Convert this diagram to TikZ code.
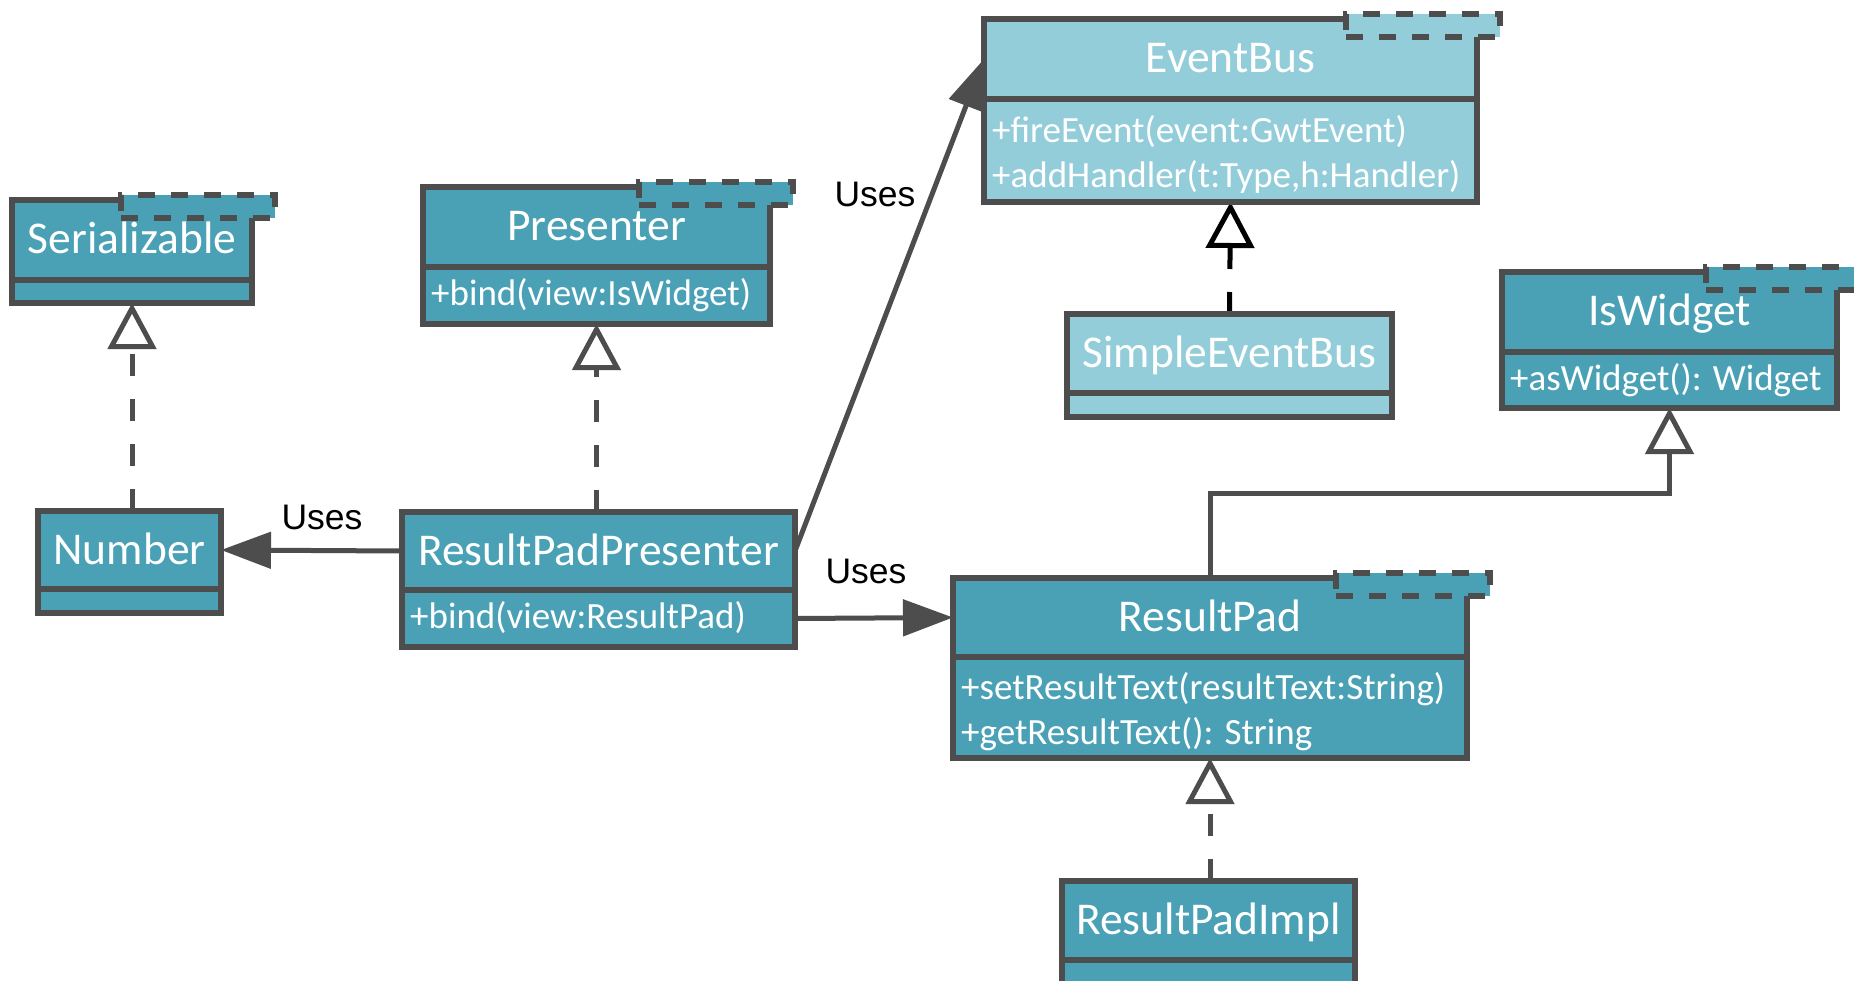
\documentclass[tikz,border=0pt]{standalone}
\usepackage{fontspec}
\setmainfont{Carlito}
\newfontfamily\arialfont{Liberation Sans}
\usetikzlibrary{arrows.meta}
\pgfdeclarelayer{bg}
\pgfsetlayers{bg,main}
\definecolor{teal1}{RGB}{74,161,182}
\definecolor{light1}{RGB}{148,205,218}
\definecolor{edge1}{RGB}{77,77,77}
\tikzset{
  clsbox/.style={draw=edge1, line width=6pt, inner sep=0pt, outer sep=0pt},
  part/.style={inner sep=0pt, outer sep=0pt},
  clsline/.style={draw=edge1, line width=6pt},
  titletxt/.style={text=white, font=\fontsize{45.5}{52}\selectfont, inner sep=0pt, anchor=base},
  methtxt/.style={text=white, font=\fontsize{37}{44}\selectfont, inner sep=0pt, anchor=base west},
  tmplbox/.style={draw=edge1, line width=5.5pt, dash pattern=on 17pt off 16pt, minimum width=154pt, minimum height=23pt, inner sep=0pt, outer sep=0pt, anchor=north east},
  genline/.style={draw=edge1, line width=5pt, dash pattern=on 22pt off 23pt, -{Triangle[length=46pt, width=48pt, fill=white]}},
  realline/.style={draw=edge1, line width=5pt, -{Triangle[length=46pt, width=48pt, fill=white]}},
  usesline/.style={draw=edge1, line width=5pt, -{Triangle[length=50pt, width=36pt]}},
  useslbl/.style={font=\arialfont\fontsize{35.5}{40}\selectfont, inner sep=0pt, text=black},
}
% name, x1, y1, x2, ydiv, y2, fill, title
\newcommand{\umlbox}[8]{%
  \node[clsbox, fill=#7, minimum width={(#4)-(#2)}, minimum height={(#6)-(#3)}] (#1) at ({((#2)+(#4))/2},{((#3)+(#6))/2}) {};
  \node[part, minimum width={(#4)-(#2)}, minimum height={(#5)-(#3)}] (#1-t) at ({((#2)+(#4))/2},{((#3)+(#5))/2}) {};
  \node[part, minimum width={(#4)-(#2)}, minimum height={(#6)-(#5)}] (#1-m) at ({((#2)+(#4))/2},{((#5)+(#6))/2}) {};
  \draw[clsline] (#1-t.south west) -- (#1-t.south east);
}
\newcommand{\umltmpl}[2]{\node[tmplbox, fill=#2] (#1-tp) at ([shift={(23,-5)}]#1.north east) {};}
\newcommand{\umltitle}[2]{\node[titletxt] (#1-name) at ([yshift=-14pt]#1-t.center) {#2};}
\newcommand{\umlline}[4]{\node[methtxt] (#1-#2) at ([xshift=8pt,yshift=#3]#1-m.west) {#4};}

\begin{document}
\begin{tikzpicture}[x=1pt,y=-1pt]
\useasboundingbox (0,0) rectangle (1854,981);

% classes
\umlbox{ser}{12}{200}{252}{280}{303}{teal1}{}
\umltmpl{ser}{teal1}
\umltitle{ser}{Serializable}

\umlbox{pres}{423}{187}{770}{267}{324}{teal1}{}
\umltmpl{pres}{teal1}
\umltitle{pres}{Presenter}
\umlline{pres}{l1}{-10pt}{+bind(view:IsWidget)}

\umlbox{eb}{984}{19}{1477}{99}{202}{light1}{}
\umltmpl{eb}{light1}
\umltitle{eb}{EventBus}
\umlline{eb}{l1}{8pt}{+fireEvent(event:GwtEvent)}
\umlline{eb}{l2}{-37pt}{+addHandler(t:Type,h:Handler)}

\umlbox{seb}{1067}{314}{1392}{393}{417}{light1}{}
\umltitle{seb}{SimpleEventBus}

\umlbox{isw}{1502}{272}{1837}{352}{408}{teal1}{}
\umltmpl{isw}{teal1}
\umltitle{isw}{IsWidget}
\umlline{isw}{l1}{-10pt}{+asWidget(): Widget}

\umlbox{num}{38}{511}{221}{589}{613}{teal1}{}
\umltitle{num}{Number}

\umlbox{rpp}{402}{512}{795}{590}{647}{teal1}{}
\umltitle{rpp}{ResultPadPresenter}
\umlline{rpp}{l1}{-10pt}{+bind(view:ResultPad)}

\umlbox{rp}{953}{578}{1467}{657}{758}{teal1}{}
\umltmpl{rp}{teal1}
\umltitle{rp}{ResultPad}
\umlline{rp}{l1}{8pt}{+setResultText(resultText:String)}
\umlline{rp}{l2}{-37pt}{+getResultText(): String}

\umlbox{rpi}{1062}{881}{1355}{960}{985}{teal1}{}
\umltitle{rpi}{ResultPadImpl}

% connectors
\begin{pgfonlayer}{bg}
\fill[white] (0,0) rectangle (1854,981);
\draw[genline] (ser.south |- num.north) -- (ser.south);
\draw[genline] (pres.south |- rpp.north) -- (pres.south);
\draw[genline, draw=black] (seb.north) -- (eb.south);
\draw[genline] (rp.south |- rpi.north) -- (rp.south);
\coordinate (bend) at (1210,493);
\draw[realline] (rp.north) -- (rp.north |- bend) -| (isw.south);
\draw[usesline] (rpp-t.west) -- (num-t.east);
\draw[usesline] (rpp-t.east) -- (eb-t.west);
\draw[usesline] (rpp-m.east) -- (rp-t.west);
\end{pgfonlayer}

% labels
\node[useslbl] (u1) at (322,517) {Uses};
\node[useslbl] (u2) at (875,194) {Uses};
\node[useslbl] (u3) at (866,571) {Uses};
\end{tikzpicture}
\end{document}
